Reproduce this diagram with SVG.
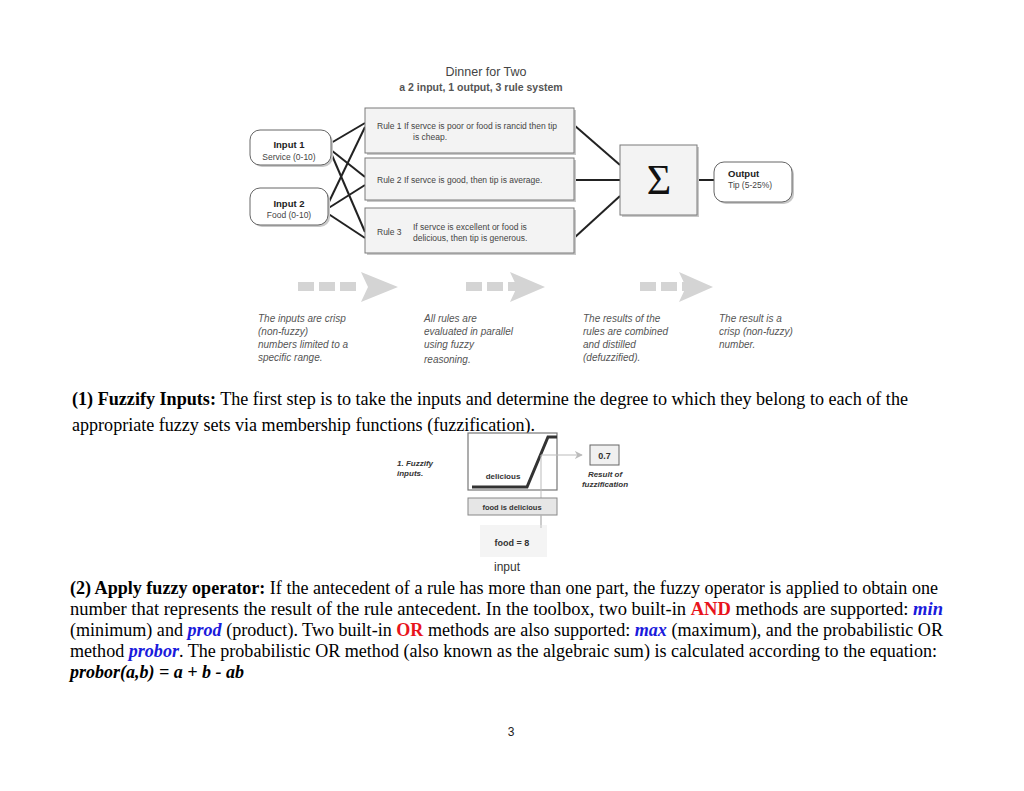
<svg xmlns="http://www.w3.org/2000/svg" width="1024" height="791" viewBox="0 0 1024 791">
<defs>
<style>
.sans{font-family:"Liberation Sans",Arial,sans-serif;}
.serif{font-family:"Liberation Serif","Times New Roman",serif;}
.box{fill:#f3f3f3;stroke:#7a7a7a;stroke-width:1;}
.shadow{fill:#c8c8c8;}
.conn{stroke:#222;stroke-width:2;fill:none;}
.small{font-size:8.5px;fill:#444;}
.lbl{font-size:9.5px;font-weight:bold;fill:#222;}
.cap{font-size:10px;font-style:italic;fill:#555;}
.para{font-size:18px;fill:#000;}
.dash{fill:#d4d4d4;}
.ffz{font-size:8px;font-weight:bold;font-style:italic;fill:#333;}
</style>
<marker id="ga" viewBox="0 0 10 10" refX="9" refY="5" markerWidth="8" markerHeight="8" orient="auto"><path d="M0,0 L10,5 L0,10 L3,5 Z" fill="#bbb"/></marker>
</defs>
<rect width="1024" height="791" fill="#fff"/>

<g id="title" class="sans">
<text x="486" y="76" text-anchor="middle" font-size="12.5" fill="#444">Dinner for Two</text>
<text x="481" y="91" text-anchor="middle" font-size="10.5" font-weight="bold" fill="#555">a 2 input, 1 output, 3 rule system</text>
</g>

<g id="connectors">
<line class="conn" x1="331" y1="143" x2="365" y2="123"/>
<line class="conn" x1="331" y1="150" x2="365" y2="177"/>
<line class="conn" x1="331" y1="153" x2="365" y2="232"/>
<line class="conn" x1="327" y1="206" x2="365" y2="127"/>
<line class="conn" x1="327" y1="209" x2="365" y2="185"/>
<line class="conn" x1="327" y1="213" x2="365" y2="238"/>
<line class="conn" x1="574" y1="125" x2="620" y2="165"/>
<line class="conn" x1="574" y1="180" x2="620" y2="180"/>
<line class="conn" x1="574" y1="238" x2="620" y2="196"/>
<line class="conn" x1="697" y1="180" x2="714" y2="180"/>
</g>

<g id="input1" class="sans">
<rect x="252" y="132" width="81" height="35" rx="10" class="shadow"/>
<rect x="250" y="130" width="81" height="35" rx="10" fill="#fff" stroke="#666"/>
<text x="289" y="148" text-anchor="middle" class="lbl">Input 1</text>
<text x="289" y="160" text-anchor="middle" class="small">Service (0-10)</text>
</g>
<g id="input2" class="sans">
<rect x="252" y="190" width="78" height="37" rx="10" class="shadow"/>
<rect x="250" y="188" width="78" height="37" rx="10" fill="#fff" stroke="#666"/>
<text x="289" y="207" text-anchor="middle" class="lbl">Input 2</text>
<text x="289" y="218" text-anchor="middle" class="small">Food (0-10)</text>
</g>

<g id="rule1" class="sans">
<rect x="367" y="110" width="209" height="45" class="shadow"/>
<rect x="365" y="108" width="209" height="45" class="box"/>
<text x="377" y="129" class="small">Rule 1 If servce is poor or food is rancid then tip</text>
<text x="413" y="140" class="small">is cheap.</text>
</g>
<g id="rule2" class="sans">
<rect x="367" y="160" width="209" height="42" class="shadow"/>
<rect x="365" y="158" width="209" height="42" class="box"/>
<text x="377" y="183" class="small">Rule 2 If servce is good, then tip is average.</text>
</g>
<g id="rule3" class="sans">
<rect x="367" y="210" width="209" height="45" class="shadow"/>
<rect x="365" y="208" width="209" height="45" class="box"/>
<text x="377" y="235" class="small">Rule 3</text>
<text x="413" y="230" class="small">If servce is excellent or food is</text>
<text x="413" y="241" class="small">delicious, then tip is generous.</text>
</g>

<g id="sum">
<rect x="622" y="147" width="77" height="70" class="shadow"/>
<rect x="620" y="145" width="77" height="70" class="box"/>
<text x="659" y="194" text-anchor="middle" class="serif" font-size="42" fill="#111">Σ</text>
</g>

<g id="output" class="sans">
<rect x="716" y="164" width="78" height="40" rx="10" class="shadow"/>
<rect x="714" y="162" width="78" height="40" rx="10" fill="#fff" stroke="#666"/>
<text x="728" y="177" class="lbl">Output</text>
<text x="728" y="188" class="small">Tip (5-25%)</text>
</g>

<g id="flow-arrows">
<rect class="dash" x="298" y="282" width="16" height="9"/>
<rect class="dash" x="319" y="282" width="16" height="9"/>
<rect class="dash" x="340" y="282" width="16" height="9"/>
<path class="dash" d="M361,272 L398,287 L361,302 L368,287 Z"/>
<rect class="dash" x="466" y="282" width="16" height="9"/>
<rect class="dash" x="487" y="282" width="16" height="9"/>
<rect class="dash" x="508" y="282" width="14" height="9"/>
<path class="dash" d="M510,272 L545,287 L510,302 L517,287 Z"/>
<rect class="dash" x="640" y="282" width="16" height="9"/>
<rect class="dash" x="661" y="282" width="16" height="9"/>
<rect class="dash" x="682" y="282" width="14" height="9"/>
<path class="dash" d="M679,272 L713,287 L679,302 L686,287 Z"/>
</g>

<g id="captions" class="sans">
<text class="cap" x="258" y="322">The inputs are crisp</text>
<text class="cap" x="258" y="335">(non-fuzzy)</text>
<text class="cap" x="258" y="348">numbers limited to a</text>
<text class="cap" x="258" y="361">specific range.</text>
<text class="cap" x="424" y="322">All rules are</text>
<text class="cap" x="424" y="335">evaluated in parallel</text>
<text class="cap" x="424" y="348">using fuzzy</text>
<text class="cap" x="424" y="363">reasoning.</text>
<text class="cap" x="583" y="322">The results of the</text>
<text class="cap" x="583" y="335">rules are combined</text>
<text class="cap" x="583" y="348">and distilled</text>
<text class="cap" x="583" y="361">(defuzzified).</text>
<text class="cap" x="719" y="322">The result is  a</text>
<text class="cap" x="719" y="335">crisp (non-fuzzy)</text>
<text class="cap" x="719" y="348">number.</text>
</g>

<g id="para1" class="serif para">
<text x="72" y="405" textLength="836" lengthAdjust="spacingAndGlyphs"><tspan font-weight="bold">(1) Fuzzify Inputs:</tspan> The first step is to take the inputs and determine the degree to which they belong to each of the</text>
<text x="72" y="431" textLength="463" lengthAdjust="spacingAndGlyphs">appropriate fuzzy sets via membership functions (fuzzification).</text>
</g>

<g id="fuzzify-figure" class="sans">
<text class="ffz" x="397" y="466">1. Fuzzify</text>
<text class="ffz" x="397" y="476">inputs.</text>
<rect x="468" y="433" width="89" height="57" fill="#fff" stroke="#777" stroke-width="1.2"/>
<polyline points="472,487 527,487 548,437 557,437" fill="none" stroke="#333" stroke-width="3"/>
<text x="503" y="479" text-anchor="middle" font-size="8" font-weight="bold" fill="#333">delicious</text>
<line x1="541" y1="455" x2="541" y2="525" stroke="#bbb" stroke-width="1"/>
<line x1="541" y1="455" x2="582" y2="455" stroke="#bbb" stroke-width="1" marker-end="url(#ga)"/>
<rect x="590" y="445" width="29" height="20" fill="#f0f0f0" stroke="#666"/>
<text x="604.5" y="459" text-anchor="middle" font-size="9" font-weight="bold" fill="#333">0.7</text>
<text class="ffz" x="605" y="477" text-anchor="middle">Result of</text>
<text class="ffz" x="605" y="487" text-anchor="middle">fuzzification</text>
<rect x="468" y="498" width="89" height="17" fill="#e6e6e6" stroke="#888"/>
<text x="512" y="510" text-anchor="middle" font-size="7.5" font-weight="bold" fill="#333">food is delicious</text>
<rect x="480" y="525" width="67" height="32" fill="#f4f4f4"/>
<line x1="541" y1="515" x2="541" y2="528" stroke="#bbb"/>
<text x="512" y="546" text-anchor="middle" font-size="9" font-weight="bold" fill="#333">food = 8</text>
<text x="507" y="571" text-anchor="middle" font-size="12" fill="#333">input</text>
</g>

<g id="para2" class="serif para">
<text x="70" y="594" textLength="868" lengthAdjust="spacingAndGlyphs"><tspan font-weight="bold">(2) Apply fuzzy operator:</tspan> If the antecedent of a rule has more than one part, the fuzzy operator is applied to obtain one</text>
<text x="70" y="615" textLength="873" lengthAdjust="spacingAndGlyphs">number that represents the result of the rule antecedent. In the toolbox, two built-in <tspan font-weight="bold" fill="#e8141c">AND</tspan> methods are supported: <tspan font-weight="bold" font-style="italic" fill="#1a1adc">min</tspan></text>
<text x="70" y="636" textLength="873" lengthAdjust="spacingAndGlyphs">(minimum) and <tspan font-weight="bold" font-style="italic" fill="#1a1adc">prod</tspan> (product). Two built-in <tspan font-weight="bold" fill="#e8141c">OR</tspan> methods are also supported: <tspan font-weight="bold" font-style="italic" fill="#1a1adc">max</tspan> (maximum), and the probabilistic OR</text>
<text x="70" y="657" textLength="867" lengthAdjust="spacingAndGlyphs">method <tspan font-weight="bold" font-style="italic" fill="#1a1adc">probor</tspan>. The probabilistic OR method (also known as the algebraic sum) is calculated according to the equation:</text>
<text x="70" y="678" font-weight="bold" font-style="italic">probor(a,b) = a + b - ab</text>
</g>

<g id="page-number" class="sans">
<text x="511" y="736" text-anchor="middle" font-size="12" fill="#222">3</text>
</g>
</svg>
